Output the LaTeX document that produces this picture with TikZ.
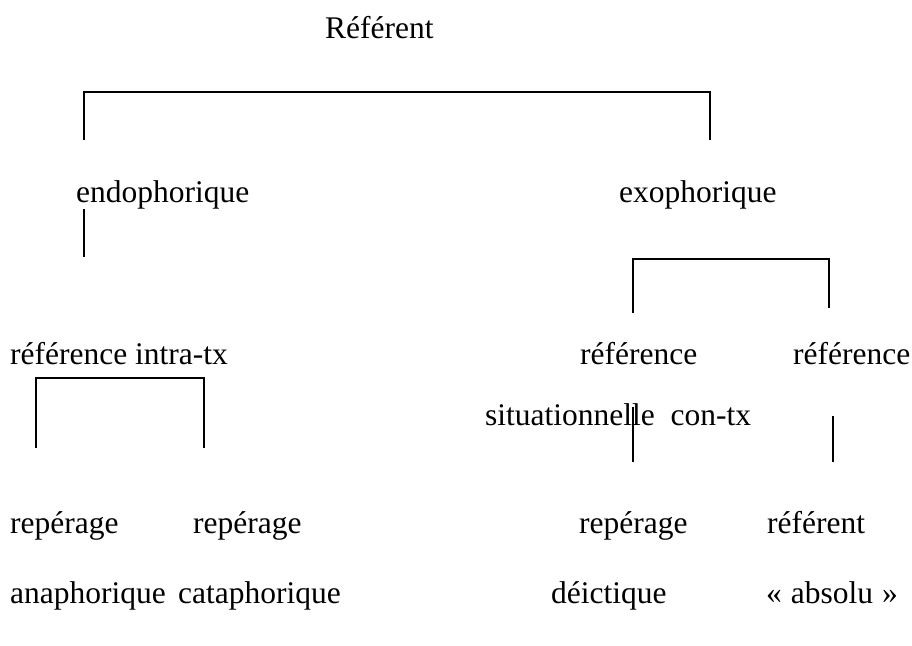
\documentclass[tikz,border=0pt]{standalone}
\usepackage{fontspec}
\setmainfont{Liberation Serif}
\usetikzlibrary{calc}

\begin{document}
\begin{tikzpicture}[x=1pt,y=-1pt,
    lbl/.style={anchor=base west,inner sep=0pt,font=\fontsize{31.5}{38}\selectfont},
    brk/.style={line width=1.7pt}]
            \useasboundingbox (0,0) rectangle (912,645);
            \node (referent) [lbl] at (325,38) {Référent};
            \node (endo) [lbl] at (76,202) {endophorique};
            \node (exo) [lbl] at (619,202) {exophorique};
            \node (intra) [lbl] at (10,364) {référence intra-tx};
            \node (sit) [lbl] at (580,364) {référence};
            \node (con) [lbl] at (793,364) {référence};
            \node (sitcon) [lbl] at (485,425) {situationnelle~~con-tx};
            \node (repA) [lbl] at (10,533) {repérage};
            \node (repC) [lbl] at (193,533) {repérage};
            \node (repD) [lbl] at (579,533) {repérage};
            \node (refabs) [lbl] at (767,533) {référent};
            \node (ana) [lbl] at (10,603) {anaphorique};
            \node (cata) [lbl] at (178,603) {cataphorique};
            \node (deic) [lbl] at (551,603) {déictique};
            \node (abs) [lbl] at (766,603) {«\hspace{9pt}absolu\hspace{9pt}»};
            \coordinate (ta) at (84,140);
            \coordinate (tb) at (710,140);
            \coordinate (ea) at (84,209);
            \coordinate (eb) at (84,257);
            \coordinate (xa) at (633,313);
            \coordinate (xb) at (829,308);
            \coordinate (ia) at (36,448);
            \coordinate (ib) at (204,448);
            \coordinate (sa) at (633,407);
            \coordinate (sb) at (633,462);
            \coordinate (ca) at (833,416);
            \coordinate (cb) at (833,462);
            \draw[brk] (ta) |- (710,92) -- (tb);
            \draw[brk] (ea) -- (eb);
            \draw[brk] (xa) |- (829,259) -- (xb);
            \draw[brk] (ia) |- (204,378) -- (ib);
            \draw[brk] (sa) -- (sb);
            \draw[brk] (ca) -- (cb);
        \end{tikzpicture}
\end{document}
